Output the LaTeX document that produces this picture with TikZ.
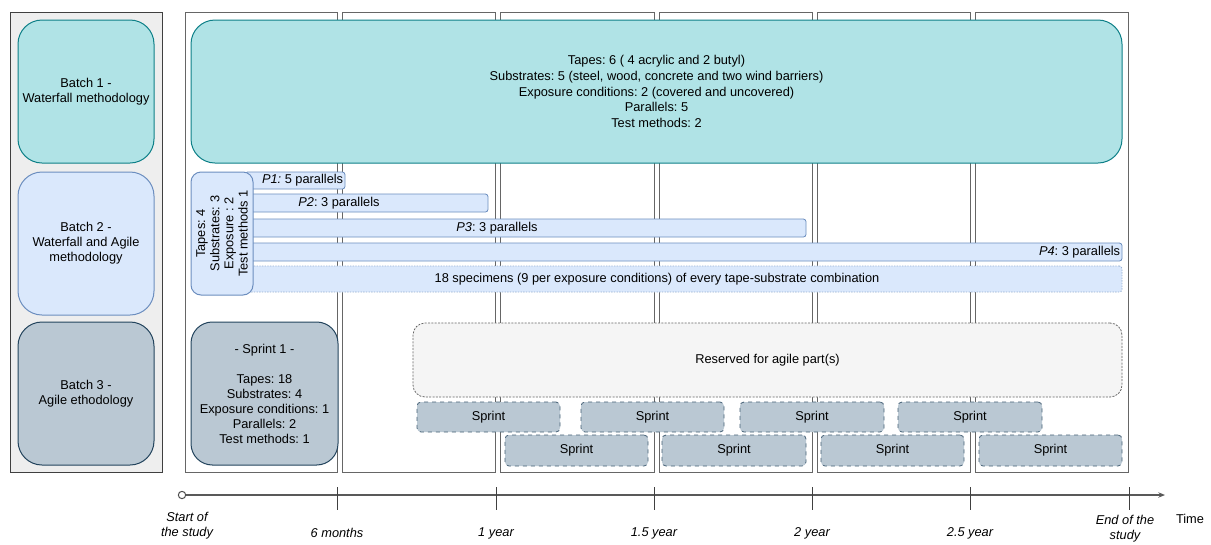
\documentclass[tikz,border=0pt]{standalone}
\usepackage{fontspec}
\setmainfont{Liberation Sans}
\usepackage{tikz}
\usetikzlibrary{positioning, arrows.meta, fit}

\definecolor{tealfill}{HTML}{B0E3E6}
\definecolor{tealline}{HTML}{0E8088}
\definecolor{bluefill}{HTML}{DAE8FC}
\definecolor{blueline}{HTML}{6C8EBF}
\definecolor{slatefill}{HTML}{BAC8D3}
\definecolor{slateline}{HTML}{23445D}
\definecolor{panelfill}{HTML}{EEEEEE}
\definecolor{frameline}{HTML}{666666}
\definecolor{reservedfill}{HTML}{F5F5F5}

\begin{document}
\frenchspacing
\begin{tikzpicture}[
    x=0.75pt, y=-0.75pt,
    every node/.style={font=\fontsize{9.6}{11.25}\selectfont},
    area/.style={inner sep=0pt},
    txt/.style={align=center, inner sep=0pt},
    panel/.style={area, draw=black!75, fill=panelfill, line width=0.75pt},
    colframe/.style={area, draw=frameline, fill=white, line width=0.75pt},
    batchone/.style={area, draw=tealline, fill=tealfill, rounded corners=18pt, line width=0.75pt},
    batchtwo/.style={area, draw=blueline, fill=bluefill, rounded corners=18pt, line width=0.75pt},
    batchthree/.style={area, draw=slateline, fill=slatefill, rounded corners=18pt, line width=0.75pt},
    bar/.style={area, draw=blueline, fill=bluefill, rounded corners=2pt, line width=0.6pt},
    sprint/.style={area, draw=slateline!85, fill=slatefill, rounded corners=3pt, dashed, line width=0.6pt},
    reserved/.style={area, draw=frameline, fill=reservedfill, rounded corners=9pt, dash pattern=on 1.5pt off 1pt, line width=0.6pt},
    tick/.style={draw=black!75, line width=0.75pt},
    when/.style={font=\fontsize{9.6}{11.25}\selectfont\itshape, align=center},
]
\useasboundingbox (0,0) rectangle (1211,544);

% left column with the batches
\node[panel, fit={(10,12) (162,472)}] (panel) {};
\node[batchone, fit={(18,20) (154,163)}] (batch1) {};
\node[batchtwo, fit={(18,172) (154,315)}] (batch2) {};
\node[batchthree, fit={(18,322) (154,465)}] (batch3) {};
\node[txt] at (batch1) {Batch 1 -\\Waterfall methodology};
\node[txt] at (batch2) {Batch 2 -\\Waterfall and Agile\\methodology};
\node[txt] at (batch3) {Batch 3 -\\Agile ethodology};

% half-year columns
\foreach \l/\r [count=\i] in {185/337, 342/495, 500/654, 659/812, 817/970, 975/1128}
    \node[colframe, fit={(\l,12) (\r,472)}] (col\i) {};

% batch 1
\node[batchone, fit={(191,20) (1122,163)}] (b1main) {};
\node[txt, font=\fontsize{9.6}{11.8}\selectfont] at (b1main)
    {Tapes: 6 ( 4 acrylic and 2 butyl)\\Substrates: 5 (steel, wood, concrete and two wind barriers)\\Exposure conditions: 2 (covered and uncovered)\\Parallels: 5\\Test methods: 2};

% batch 2
\node[bar, fit={(245,172) (345,189)}] (p1) {};
\node[bar, fit={(245,194) (488,212)}] (p2) {};
\node[bar, fit={(245,219) (806,237)}] (p3) {};
\node[bar, fit={(245,243) (1122,261)}] (p4) {};
\node[bar, fit={(245,266) (1122,292)}, dash pattern=on 1pt off 1pt, draw=blueline!70] (spec) {};
\node[anchor=east, inner sep=1.5pt] at (p1.east) (p1txt) {\textit{P1:} 5 parallels};
\node[txt] at (339,203) (p2txt) {\textit{P2}: 3 parallels};
\node[txt] at (497,228) (p3txt) {\textit{P3}: 3 parallels};
\node[anchor=east, inner sep=1.5pt] at (p4.east) (p4txt) {\textit{P4}: 3 parallels};
\node[txt] at (657,279) (spectxt) {18 specimens (9 per exposure conditions) of every tape-substrate combination};
\node[batchtwo, rounded corners=7.5pt, fit={(191,172) (253,295)}] (b2info) {};
\node[rotate=90, align=center, font=\fontsize{9.6}{10.6}\selectfont] at (b2info.center) (b2txt)
    {Tapes: 4\\Substrates: 3\\Exposure : 2\\Test methods 1};

% batch 3
\node[batchthree, rounded corners=16pt, fit={(191,322) (338,465)}] (sprint1) {};
\node[txt] at (sprint1) {- Sprint 1 -\\[11.25pt]Tapes: 18\\Substrates: 4\\Exposure conditions: 1\\Parallels: 2\\Test methods: 1};
\node[reserved, fit={(413,323) (1122,397)}] (agile) {};
\node[txt] at (agile) {Reserved for agile part(s)};
\foreach \l/\r [count=\i] in {417/560, 581/724, 740/884, 898/1042} {
    \node[sprint, fit={(\l,402) (\r,432)}] (sa\i) {};
    \node[txt] at (sa\i) {Sprint};
}
\foreach \l/\r [count=\i] in {505/648, 662/806, 821/964, 979/1122} {
    \node[sprint, fit={(\l,435) (\r,466)}] (sb\i) {};
    \node[txt] at (sb\i) {Sprint};
}

% time axis
\node[circle, draw=black!70, fill=white, line width=0.75pt, minimum size=5.5pt, inner sep=0pt] (t0) at (182,495) {};
\coordinate (tend) at (1165,495);
\draw[draw=black!65, line width=1pt, -{Stealth[length=5pt, width=4pt]}] (t0) -- (tend);
\foreach \x in {337, 496, 654, 812, 970, 1129}
    \draw[tick] (\x,487) -- (\x,510);

\node[when] (lstart) at (187,526) {Start of\\the study};
\node[when] (l6m) at (337,533) {6 months};
\node[when] (l1y) at (496,533) {1 year};
\node[when] (l15y) at (654,533) {1.5 year};
\node[when] (l2y) at (812,533) {2 year};
\node[when] (l25y) at (970,533) {2.5 year};
\node[when] (lend) at (1125,529) {End of the\\study};
\node (ltime) at (1190,519) {Time};
\end{tikzpicture}
\end{document}
